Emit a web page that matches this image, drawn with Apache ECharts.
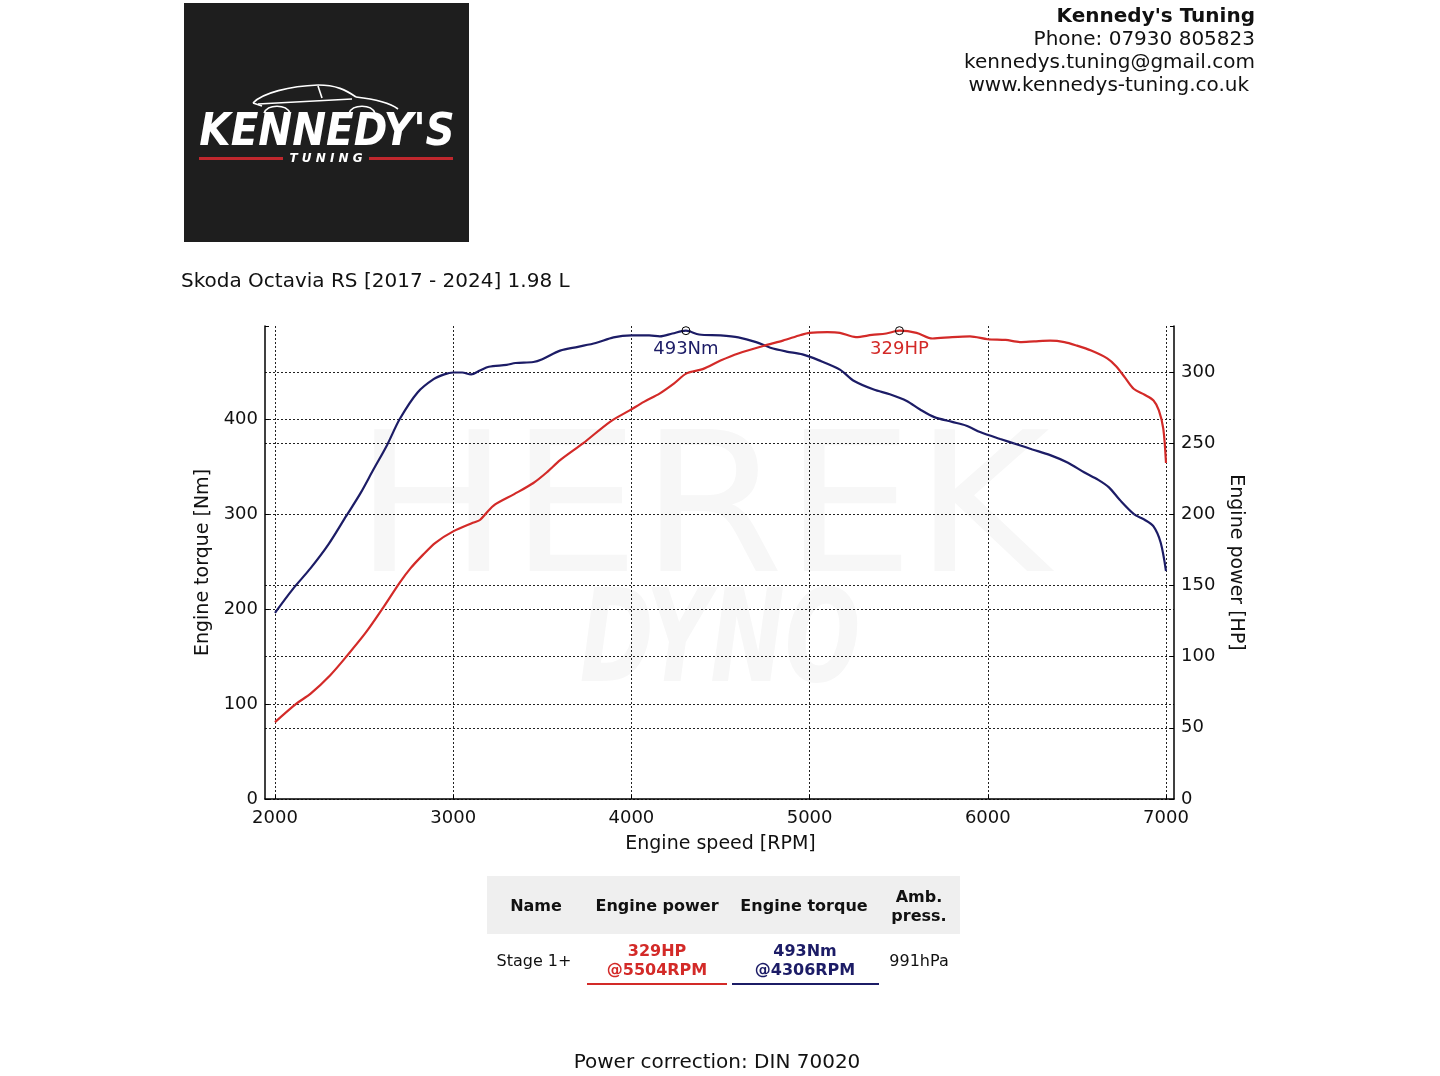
<!DOCTYPE html>
<html><head><meta charset="utf-8">
<script src="https://cdn.jsdelivr.net/npm/echarts@6/dist/echarts.min.js"></script>
<style>html,body{margin:0;padding:0;background:#fff}#c{width:1440px;height:1076px}</style>
</head><body><div id="c"></div>
<script>
// ---------- data ----------
const rpmTorque = [2000,2100,2200,2300,2400,2480,2550,2630,2700,2800,2890,2950,3000,3050,3100,3150,3200,3300,3350,3450,3500,3600,3700,3800,3900,4000,4100,4160,4230,4306,4380,4500,4600,4700,4780,4870,4960,5050,5170,5250,5360,5450,5545,5620,5700,5800,5880,5960,6070,6170,6250,6350,6450,6540,6620,6680,6740,6820,6880,6930,6970,7000];
const torqueNm  = [196,221,243,268,298,322,346,373,400,428,442,447,449,449,447,451,455,457,459,460,463,472,476,480,486,488,488,487,490,493,489,488,486,481,475,471,468,462,452,440,431,426,419,410,402,397,393,386,379,373,368,362,354,344,336,328,315,300,294,287,270,240];
const rpmPower = [2000,2120,2200,2310,2400,2510,2610,2700,2760,2830,2900,3000,3110,3150,3225,3340,3450,3530,3600,3730,3880,3990,4070,4160,4240,4310,4400,4500,4600,4760,4850,4950,5000,5100,5170,5260,5350,5430,5504,5600,5690,5800,5900,6000,6100,6180,6260,6350,6430,6500,6580,6670,6720,6770,6820,6880,6930,6960,6985,7000];
const powerHP  = [54,67,74,87,100,117,135,152,162,171.5,180,188,194,196,206,214,222,230,238,250,265,273,279,285,292,299,302,308,313,319,322,326,327.5,328,327.5,324.5,326,327,329,327.5,323.5,324.5,325,323,322.5,321,321.5,322,321,318.5,315,309.5,304,296,288,284,280,273,260,236];
const peakTorque = 493, peakTorqueRpm = 4306;
const peakPower = 329, peakPowerRpm = 5504;
const runName = 'Stage 1+';
const ambPressure = '991hPa';
const vehicleTitle = 'Skoda Octavia RS [2017 - 2024] 1.98 L';
const headerLines = ["Kennedy's Tuning", 'Phone: 07930 805823', 'kennedys.tuning@gmail.com', 'www.kennedys-tuning.co.uk'];
const tableHeaders = ['Name', 'Engine power', 'Engine torque', 'Amb.\npress.'];
const footerText = 'Power correction: DIN 70020';

// ---------- style ----------
const FONT = 'DejaVu Sans';
const NAVY = '#1c1c66';
const RED = '#d32a28';
const TXT = '#111';
const torqueMax = Math.max(...torqueNm) * 1.01;
const powerMax = Math.max(...powerHP) * 1.01;
const gridLine = { type: [2, 2], color: '#222', width: 1 };

const chart = echarts.init(document.getElementById('c'), null, { renderer: 'canvas' });

function txt(x, y, text, opt) {
  return Object.assign({ type: 'text', x, y: y + 2, silent: true, z: 10,
    style: Object.assign({ text, fill: TXT, fontFamily: FONT, fontSize: 20, align: 'left', verticalAlign: 'middle' }, opt || {}) });
}
const carStroke = { fill: 'none', stroke: '#fff', lineWidth: 1.6 };
function bz(x1, y1, c1x, c1y, c2x, c2y, x2, y2) {
  return { type: 'bezierCurve', z: 6, silent: true, shape: { x1, y1, cpx1: c1x, cpy1: c1y, cpx2: c2x, cpy2: c2y, x2, y2 }, style: carStroke };
}
function ln(x1, y1, x2, y2) {
  return { type: 'line', z: 6, silent: true, shape: { x1, y1, x2, y2 }, style: carStroke };
}

const colX = [536, 657, 804, 919];
const graphics = [
  // watermark
  { type: 'text', x: 702, y: 520, z: -10, silent: true, scaleX: 1.06, style: { text: 'HEREK', fill: '#f7f7f7', fontFamily: FONT, fontSize: 195, align: 'center', verticalAlign: 'middle' } },
  { type: 'text', x: 720, y: 648, z: -10, silent: true, scaleX: 0.86, scaleY: 1.12, style: { text: 'DYNO', fill: '#f7f7f7', fontFamily: 'DejaVu Sans Condensed', fontWeight: 'bold', fontStyle: 'italic', fontSize: 115, align: 'center', verticalAlign: 'middle' } },
  // logo
  { type: 'rect', shape: { x: 184, y: 3, width: 285, height: 239 }, style: { fill: '#1e1e1e' }, z: 5, silent: true },
  bz(253, 103, 262, 93, 290, 86, 318, 85),
  bz(318, 85, 336, 85, 346, 90, 356, 97),
  bz(356, 97, 374, 99, 390, 103, 398, 109),
  ln(258, 104, 352, 99),
  ln(318, 86, 322, 98),
  bz(264, 113, 268, 104, 286, 104, 290, 113),
  bz(349, 113, 353, 104, 371, 104, 375, 113),
  ln(253, 103, 262, 106),
  txt(327, 131, "KENNEDY'S", { fill: '#fff', fontFamily: 'DejaVu Sans Condensed', fontWeight: 'bold', fontStyle: 'italic', fontSize: 45, align: 'center' }),
  { type: 'rect', z: 6, silent: true, shape: { x: 199, y: 157, width: 84, height: 3 }, style: { fill: '#c0272d' } },
  { type: 'rect', z: 6, silent: true, shape: { x: 369, y: 157, width: 84, height: 3 }, style: { fill: '#c0272d' } },
  txt(326, 157, 'T U N I N G', { fill: '#fff', fontWeight: 'bold', fontStyle: 'italic', fontSize: 12, align: 'center' }),
  // header
  txt(1255, 15, headerLines[0], { fontWeight: 'bold', align: 'right' }),
  txt(1255, 38, headerLines[1], { align: 'right' }),
  txt(1255, 61, headerLines[2], { align: 'right' }),
  txt(1249, 84, headerLines[3], { align: 'right' }),
  // title
  txt(181, 280, vehicleTitle, {}),
  // table
  { type: 'rect', z: 5, silent: true, shape: { x: 487, y: 876, width: 473, height: 58 }, style: { fill: '#efefef' } },
  ...tableHeaders.map((h, i) => txt(colX[i], 905, h, { fontWeight: 'bold', fontSize: 16, align: 'center', lineHeight: 19 })),
  txt(colX[0] - 2, 960, runName, { fontSize: 16, align: 'center' }),
  txt(colX[1], 959, peakPower + 'HP\n@' + peakPowerRpm + 'RPM', { fill: RED, fontWeight: 'bold', fontSize: 16, align: 'center', lineHeight: 19 }),
  txt(colX[2] + 1, 959, peakTorque + 'Nm\n@' + peakTorqueRpm + 'RPM', { fill: NAVY, fontWeight: 'bold', fontSize: 16, align: 'center', lineHeight: 19 }),
  txt(colX[3], 960, ambPressure, { fontSize: 16, align: 'center' }),
  { type: 'rect', z: 6, silent: true, shape: { x: 587, y: 983, width: 140, height: 2 }, style: { fill: RED } },
  { type: 'rect', z: 6, silent: true, shape: { x: 732, y: 983, width: 147, height: 2 }, style: { fill: NAVY } },
  // footer
  txt(717, 1061, footerText, { align: 'center' })
];

function peakMark(rpm, val, label, color) {
  return {
    silent: true, symbol: 'circle', symbolSize: 8,
    itemStyle: { color: 'rgba(0,0,0,0)', borderColor: '#000', borderWidth: 1 },
    label: { show: true, position: 'bottom', distance: 5, formatter: label, color, fontSize: 18, fontFamily: FONT },
    data: [{ coord: [rpm, val] }]
  };
}

chart.setOption({
  animation: false,
  backgroundColor: '#fff',
  textStyle: { fontFamily: FONT, color: TXT },
  grid: [
    { left: 275, right: 274, top: 326, bottom: 277 },
    { left: 265, right: 266, top: 326, bottom: 277 }
  ],
  xAxis: [
    { gridIndex: 0, type: 'value', min: 2000, max: 7000, interval: 1000,
      axisLine: { show: false },
      axisTick: { show: true, inside: true, length: 4, lineStyle: { color: '#000' } },
      axisLabel: { fontSize: 18, color: TXT, margin: 10, fontFamily: FONT, formatter: v => String(v) },
      splitLine: { show: true, lineStyle: gridLine },
      name: 'Engine speed [RPM]', nameLocation: 'middle', nameGap: 36,
      nameTextStyle: { fontSize: 19, color: TXT, fontFamily: FONT } },
    { gridIndex: 1, type: 'value', min: 0, max: 1,
      axisLine: { show: true, lineStyle: { color: '#000', width: 1.5 } },
      axisTick: { show: false }, axisLabel: { show: false }, splitLine: { show: false } }
  ],
  yAxis: [
    { gridIndex: 0, type: 'value', min: 0, max: torqueMax, show: false, splitLine: { show: false } },
    { gridIndex: 0, type: 'value', min: 0, max: powerMax, show: false, splitLine: { show: false } },
    { gridIndex: 1, type: 'value', position: 'left', min: 0, max: torqueMax, interval: 100,
      axisLine: { show: true, lineStyle: { color: '#000', width: 1.5 } },
      axisTick: { show: true, inside: true, length: 4, lineStyle: { color: '#000' } },
      axisLabel: { fontSize: 18, color: TXT, margin: 7, fontFamily: FONT, formatter: v => (v % 100 === 0 ? String(v) : '') },
      splitLine: { show: true, showMaxLine: false, lineStyle: gridLine },
      name: 'Engine torque [Nm]', nameLocation: 'middle', nameGap: 43, nameRotate: 90,
      nameTextStyle: { fontSize: 19, color: TXT, fontFamily: FONT } },
    { gridIndex: 1, type: 'value', position: 'right', min: 0, max: powerMax, interval: 50,
      axisLine: { show: true, lineStyle: { color: '#000', width: 1.5 } },
      axisTick: { show: true, inside: true, length: 4, lineStyle: { color: '#000' } },
      axisLabel: { fontSize: 18, color: TXT, margin: 7, fontFamily: FONT, formatter: v => (v % 50 === 0 ? String(v) : '') },
      splitLine: { show: true, showMaxLine: false, lineStyle: gridLine },
      name: 'Engine power [HP]', nameLocation: 'middle', nameGap: 41, nameRotate: -90,
      nameTextStyle: { fontSize: 19, color: TXT, fontFamily: FONT } }
  ],
  series: [
    { name: 'Engine torque', type: 'line', xAxisIndex: 0, yAxisIndex: 0, z: 3,
      data: rpmTorque.map((r, i) => [r, torqueNm[i]]), showSymbol: false, smooth: 0.3,
      lineStyle: { color: NAVY, width: 2.2 }, itemStyle: { color: NAVY },
      markPoint: peakMark(peakTorqueRpm, peakTorque, peakTorque + 'Nm', NAVY) },
    { name: 'Engine power', type: 'line', xAxisIndex: 0, yAxisIndex: 1, z: 3,
      data: rpmPower.map((r, i) => [r, powerHP[i]]), showSymbol: false, smooth: 0.3,
      lineStyle: { color: RED, width: 2.2 }, itemStyle: { color: RED },
      markPoint: peakMark(peakPowerRpm, peakPower, peakPower + 'HP', RED) }
  ],
  graphic: graphics
});
</script>
</body></html>
